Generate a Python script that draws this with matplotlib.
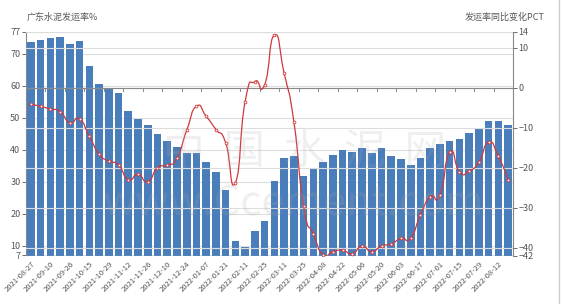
# Guangdong cement shipment rate (bars) and YoY change in PCT (line)

import numpy as np
import matplotlib.pyplot as plt
from matplotlib.path import Path
from matplotlib.patches import PathPatch

plt.rcParams['font.family'] = ['Noto Sans CJK SC', 'DejaVu Sans']

# weekly categories, a label on every second one
labels = ['2021-08-27', '', '2021-09-10', '', '2021-09-26', '', '2021-10-15', '',
          '2021-10-29', '', '2021-11-12', '', '2021-11-26', '', '2021-12-10', '',
          '2021-12-24', '', '2022-01-07', '', '2022-01-21', '', '2022-02-11', '',
          '2022-02-25', '', '2022-03-11', '', '2022-03-25', '', '2022-04-08', '',
          '2022-04-22', '', '2022-05-06', '', '2022-05-20', '', '2022-06-03', '',
          '2022-06-17', '', '2022-07-01', '', '2022-07-15', '', '2022-07-29', '',
          '2022-08-12', '']

# shipment rate %
rate = [73.8, 74.4, 74.9, 75.4, 73.1, 74.0, 66.1, 60.6, 59.4, 57.7,
        52.1, 49.6, 47.8, 45.0, 42.9, 40.9, 39.0, 38.9, 36.3, 33.0,
        27.5, 11.5, 9.8, 14.5, 17.9, 30.4, 37.4, 38.1, 31.7, 34.3,
        36.2, 38.3, 40.0, 39.3, 40.5, 39.0, 40.5, 38.1, 37.1, 35.3,
        37.4, 40.6, 41.9, 42.8, 43.5, 45.3, 47.0, 49.0, 48.9, 47.7]

# year-on-year change, PCT
pct = [-4.2, -4.7, -5.4, -6.0, -8.8, -7.9, -12.2, -16.6, -18.4, -19.4,
       -23.0, -21.7, -23.5, -20.1, -19.4, -17.6, -10.7, -4.7, -7.2, -10.5,
       -13.8, -23.8, -3.5, 1.5, 0.7, 13.1, 3.6, -8.5, -29.6, -36.6,
       -41.8, -41.0, -40.7, -41.5, -39.7, -41.0, -39.6, -39.1, -37.7, -37.6,
       -31.8, -27.3, -26.9, -16.2, -21.1, -20.9, -18.6, -13.7, -17.2, -23.0]

left_ticks = [7, 10, 20, 30, 40, 50, 60, 70, 77]
right_ticks = [-42, -40, -30, -20, -10, 0, 10, 14]

bar_color = '#4a7ebb'
line_color = '#d0393b'
txt = '#555555'
grid = '#dddddd'


def smooth_path(xs, ys, k=0.3):
    # cubic bezier through the points, tangent from neighbours
    verts = [(xs[0], ys[0])]
    codes = [Path.MOVETO]
    n = len(xs)
    for i in range(n - 1):
        p0 = i - 1 if i > 0 else i
        p3 = i + 2 if i + 2 < n else i + 1
        c1 = (xs[i] + k * (xs[i + 1] - xs[p0]), ys[i] + k * (ys[i + 1] - ys[p0]))
        c2 = (xs[i + 1] - k * (xs[p3] - xs[i]), ys[i + 1] - k * (ys[p3] - ys[i]))
        verts += [c1, c2, (xs[i + 1], ys[i + 1])]
        codes += [Path.CURVE4] * 3
    return Path(verts, codes)


fig = plt.figure(figsize=(5.64, 3.04), dpi=100)
ax = fig.add_axes([26 / 564, 48.5 / 304, 487 / 564, 224 / 304])
ax2 = ax.twinx()

x = np.arange(len(rate))

# grid lines for both axes
for t in left_ticks:
    ax.axhline(t, color=grid, lw=0.8, zorder=0)
ax.bar(x, rate, width=0.78, color=bar_color, zorder=2)
ax.set_xlim(-0.5, len(rate) - 0.5)
ax.set_ylim(7, 77)
ax.set_yticks(left_ticks)
ax.tick_params(axis='y', labelsize=6.5, colors=txt, length=3, width=0.6, pad=1)

ax2.set_ylim(-42, 14)
ax2.set_yticks(right_ticks)
for t in right_ticks:
    ax2.axhline(t, color=grid, lw=0.8, zorder=0)
ax2.tick_params(axis='y', labelsize=6.5, colors=txt, length=3, width=0.6, pad=1)

# x axis sits at zero of the right axis
ax2.axhline(0, color='#888888', lw=0.8, zorder=3)
for i in range(0, len(rate), 2):
    ax2.plot([i - 0.5, i - 0.5], [0, -0.9], color='#888888', lw=0.7, zorder=3)

ax.set_xticks(x)
ax.set_xticklabels(labels, rotation=45, ha='right', rotation_mode='anchor',
                   fontsize=5.5, color=txt)
ax.tick_params(axis='x', length=0, pad=3)

ax2.add_patch(PathPatch(smooth_path(x, pct), fill=False, edgecolor=line_color,
                        lw=0.9, zorder=4))
ax2.plot(x, pct, 'o', ms=2, mfc='white', mec=line_color, mew=0.6, zorder=5)

for a in (ax, ax2):
    for s in a.spines.values():
        s.set_visible(False)
ax.spines['left'].set_visible(True)
ax.spines['left'].set_color('#888888')
ax.spines['left'].set_linewidth(0.8)
ax2.spines['right'].set_visible(True)
ax2.spines['right'].set_color('#888888')
ax2.spines['right'].set_linewidth(0.8)

fig.text(27 / 564, 1 - 17 / 304, '广东水泥发运率%', fontsize=6.5, color=txt, va='center')
fig.text(545 / 564, 1 - 17 / 304, '发运率同比变化PCT', fontsize=6.5, color=txt,
         va='center', ha='right')

# watermark
fig.text(0.54, 0.50, '中  国  水  泥  网', fontsize=30, color='#aaaaaa', alpha=0.18,
         ha='center', va='center', zorder=10)
fig.text(0.52, 0.33, 'www.Ccement.com', fontsize=30, color='#aaaaaa', alpha=0.18,
         ha='center', va='center', zorder=10)

fig.add_artist(plt.Line2D([559 / 564, 559 / 564], [0, 1], color='#cccccc', lw=1))

fig.savefig('out.png', dpi=100)
